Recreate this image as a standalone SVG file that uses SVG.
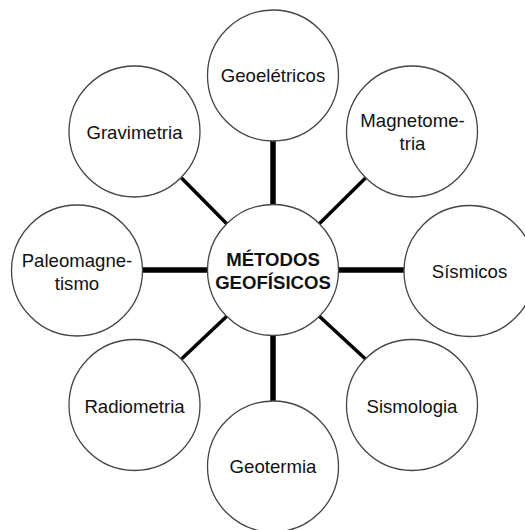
<svg xmlns="http://www.w3.org/2000/svg" width="525" height="530" viewBox="0 0 525 530">
<style>
.n circle{fill:#fff;stroke:#444;stroke-width:1.3}
.t{font-family:"Liberation Sans",Arial,sans-serif;font-size:18.6px;fill:#111;text-anchor:middle}
.b{font-weight:bold}
.ax{stroke:#000;stroke-width:5.5}
.dg{stroke:#000;stroke-width:3.5}
</style>
<rect width="525" height="530" fill="#fff"/>
<g id="connectors">
<line class="ax" x1="273" y1="140" x2="273" y2="206"/>
<line class="ax" x1="273" y1="334" x2="273" y2="401"/>
<line class="ax" x1="142" y1="270" x2="208" y2="270"/>
<line class="ax" x1="338" y1="270" x2="404" y2="270"/>
<line class="dg" x1="181.5" y1="178" x2="227" y2="224"/>
<line class="dg" x1="365.5" y1="178" x2="319" y2="224"/>
<line class="dg" x1="181.5" y1="359" x2="227" y2="316"/>
<line class="dg" x1="365.5" y1="359" x2="319" y2="316"/>
</g>
<g id="center" class="n"><circle cx="273" cy="270" r="65.5"/><text class="t b" x="273" y="266">MÉTODOS</text><text class="t b" x="273" y="289">GEOFÍSICOS</text></g>
<g id="geoeletricos" class="n"><circle cx="273" cy="75.5" r="65.5"/><text class="t" x="273" y="82">Geoelétricos</text></g>
<g id="magnetometria" class="n"><circle cx="412" cy="131.5" r="65.5"/><text class="t" x="412.5" y="127">Magnetome-</text><text class="t" x="412.5" y="150">tria</text></g>
<g id="sismicos" class="n"><circle cx="469.5" cy="271" r="65.5"/><text class="t" x="469.5" y="278">Sísmicos</text></g>
<g id="sismologia" class="n"><circle cx="412" cy="405" r="65.5"/><text class="t" x="412" y="412.5">Sismologia</text></g>
<g id="geotermia" class="n"><circle cx="273" cy="466.5" r="65.5"/><text class="t" x="273" y="472.5">Geotermia</text></g>
<g id="radiometria" class="n"><circle cx="134.5" cy="405" r="65.5"/><text class="t" x="134.5" y="412.5">Radiometria</text></g>
<g id="paleomagnetismo" class="n"><circle cx="77" cy="270.5" r="65.5"/><text class="t" x="77" y="266.5">Paleomagne-</text><text class="t" x="77" y="289.5">tismo</text></g>
<g id="gravimetria" class="n"><circle cx="134.5" cy="131.5" r="65.5"/><text class="t" x="134.5" y="139">Gravimetria</text></g>
</svg>
